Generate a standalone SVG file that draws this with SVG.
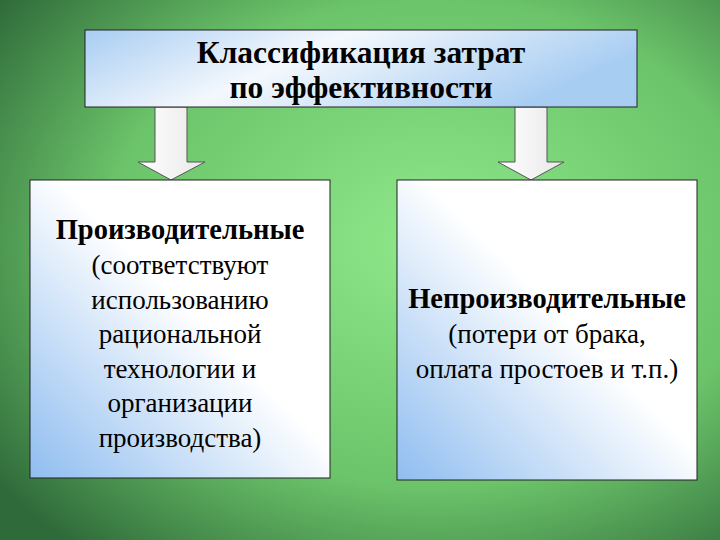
<svg xmlns="http://www.w3.org/2000/svg" width="720" height="540" viewBox="0 0 720 540">
<defs>
<radialGradient id="bg" cx="0.6" cy="0.45" r="0.75">
<stop offset="0" stop-color="#8fe88a"/><stop offset="0.6" stop-color="#6cc46a"/><stop offset="1" stop-color="#2f6a3a"/>
</radialGradient>
<linearGradient id="top" x1="0" y1="0" x2="1" y2="0.3">
<stop offset="0" stop-color="#a8cdf2"/><stop offset="0.45" stop-color="#f4f8fd"/><stop offset="1" stop-color="#a8cdf2"/>
</linearGradient>
<linearGradient id="box" x1="0" y1="1" x2="1" y2="0">
<stop offset="0" stop-color="#8fbdf0"/><stop offset="0.55" stop-color="#ffffff"/><stop offset="1" stop-color="#ffffff"/>
</linearGradient>
<linearGradient id="arr" x1="0" y1="0" x2="1" y2="0">
<stop offset="0" stop-color="#ffffff"/><stop offset="1" stop-color="#e8e8e8"/>
</linearGradient>
<style>
.b{stroke:#222;stroke-width:1}
.a{fill:url(#arr);stroke:#555;stroke-width:1}
text{font-family:"Liberation Serif",serif;font-size:27px;fill:#000;text-anchor:middle}
.h{font-weight:bold;font-size:28.5px}
.t{font-size:31.5px;font-weight:bold}
</style>
</defs>
<rect width="720" height="540" fill="url(#bg)"/>
<g id="connectors">
<polygon class="a" points="155,107 187,107 187,162 205,162 171,180 138,162 155,162"/>
<polygon class="a" points="515,107 547,107 547,162 564,162 531,180 498,162 515,162"/>
</g>
<g id="title">
<rect class="b" x="85" y="30" width="552" height="77" fill="url(#top)"/>
<text class="t" x="361" y="63">Классификация затрат</text>
<text class="t" x="361" y="98">по эффективности</text>
</g>
<g id="left">
<rect class="b" x="30" y="180" width="300" height="298" fill="url(#box)"/>
<text class="h" x="180" y="239">Производительные</text>
<text x="180" y="274">(соответствуют</text>
<text x="180" y="309">использованию</text>
<text x="180" y="343">рациональной</text>
<text x="180" y="378">технологии и</text>
<text x="180" y="412">организации</text>
<text x="180" y="447">производства)</text>
</g>
<g id="right">
<rect class="b" x="397" y="180" width="300" height="300" fill="url(#box)"/>
<text class="h" x="547" y="308">Непроизводительные</text>
<text x="547" y="343">(потери от брака,</text>
<text x="547" y="378">оплата простоев и т.п.)</text>
</g>
</svg>
